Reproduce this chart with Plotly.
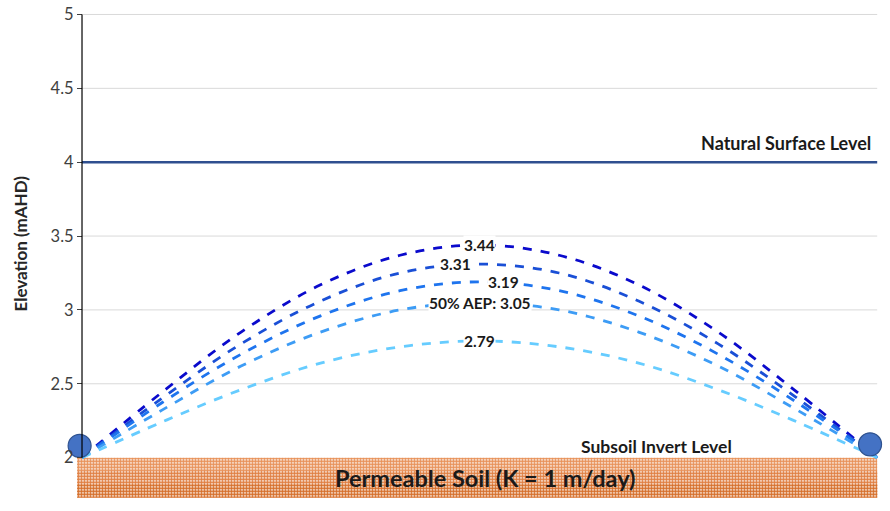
import plotly.graph_objects as go

# distance across the soakage area (no x axis shown, arbitrary units)
distance = [0, 1, 2, 3, 4, 5, 6, 7, 8, 9, 10]

# groundwater mound profiles (mAHD)
mound_344 = [2.00, 2.44, 2.85, 3.17, 3.37, 3.44, 3.37, 3.17, 2.85, 2.44, 2.00]
mound_331 = [2.00, 2.40, 2.77, 3.06, 3.25, 3.31, 3.25, 3.06, 2.77, 2.40, 2.00]
mound_319 = [2.00, 2.37, 2.70, 2.96, 3.13, 3.19, 3.13, 2.96, 2.70, 2.37, 2.00]
mound_305 = [2.00, 2.32, 2.62, 2.85, 3.00, 3.05, 3.00, 2.85, 2.62, 2.32, 2.00]
mound_279 = [2.00, 2.24, 2.46, 2.64, 2.75, 2.79, 2.75, 2.64, 2.46, 2.24, 2.00]

mounds = [mound_344, mound_331, mound_319, mound_305, mound_279]
peak_labels = ['3.44', '3.31', '3.19', '50% AEP: 3.05', '2.79']
label_x = [5.0, 4.7, 5.3, 5.0, 5.0]
line_colors = ['#0A0ACC', '#1A4FD6', '#1E74EE', '#3D9CF5', '#66CCFF']

surface_level = 4.0
invert_level = 2.0
soil_bottom = 1.73
outlet_x = [-0.03, 9.91]
outlet_y = [2.08, 2.09]
ytick_vals = [2, 2.5, 3, 3.5, 4, 4.5, 5]

fig = go.Figure()

# permeable soil band, dotted, darker towards the bottom
# (each strip runs down to the bottom so the lower ones overlap without seams)
soil_strips = [(2.0, '#E8925A'), (1.91, '#E08043'), (1.82, '#D6702C')]
for top, col in soil_strips:
    fig.add_trace(go.Scatter(
        x=[-0.07, 10.0, 10.0, -0.07, -0.07],
        y=[top, top, soil_bottom, soil_bottom, top],
        mode='lines', line=dict(width=0),
        fill='toself', fillcolor='white',
        fillpattern=dict(shape='.', fgcolor=col, fgopacity=1, bgcolor='white',
                         size=3, solidity=0.75),
        hoverinfo='skip', showlegend=False,
    ))

# gridlines from the axis to the right edge
for v in ytick_vals:
    if v in (2, 4):
        continue
    fig.add_shape(type='line', x0=0, x1=10, y0=v, y1=v,
                  line=dict(color='#D9D9D9', width=1), layer='below')

# y axis line
fig.add_shape(type='line', x0=0, x1=0, y0=invert_level, y1=5,
              line=dict(color='black', width=1.2))

# natural surface level
fig.add_trace(go.Scatter(
    x=[0, 10], y=[surface_level, surface_level], mode='lines',
    line=dict(color='#2F4F8F', width=2.5), hoverinfo='skip', showlegend=False,
))

for ys, col in zip(mounds, line_colors):
    fig.add_trace(go.Scatter(
        x=distance, y=ys, mode='lines',
        line=dict(color=col, width=2.8, dash='dash', shape='spline'),
        showlegend=False,
    ))

# outlet pits
fig.add_trace(go.Scatter(
    x=outlet_x, y=outlet_y, mode='markers', cliponaxis=False,
    marker=dict(size=23, color='#4472C4', line=dict(color='#2F528F', width=1.2)),
    showlegend=False,
))

for txt, xv, ys in zip(peak_labels, label_x, mounds):
    fig.add_annotation(x=xv, y=max(ys), text='<b>' + txt + '</b>', showarrow=False,
                       bgcolor='white', borderpad=0,
                       font=dict(family='Lato', size=15.5, color='#1A1A1A'))

fig.add_annotation(x=9.95, y=surface_level, yshift=19, xanchor='right', showarrow=False,
                   text='<b>Natural Surface Level</b>',
                   font=dict(family='Lato', size=18, color='#1A1A1A'))
fig.add_annotation(x=8.2, y=invert_level, yshift=11, xanchor='right', showarrow=False,
                   text='<b>Subsoil Invert Level</b>',
                   font=dict(family='Lato', size=17.5, color='#1A1A1A'))
fig.add_annotation(x=5.07, y=(invert_level + soil_bottom) / 2, showarrow=False,
                   text='<b>Permeable Soil (K = 1 m/day)</b>',
                   font=dict(family='Lato', size=23.5, color='#1A1A1A'))
fig.add_annotation(x=-0.071, xref='paper', xanchor='center', y=3.45, textangle=-90,
                   showarrow=False, text='<b>Elevation (mAHD)</b>',
                   font=dict(family='Lato', size=17, color='#262626'))

fig.update_layout(
    width=890, height=511,
    plot_bgcolor='white', paper_bgcolor='white',
    margin=dict(l=77, r=12, t=12.5, b=11.5, autoexpand=False),
    xaxis=dict(range=[-0.063, 10.01], visible=False, showgrid=False, zeroline=False,
               automargin=False),
    yaxis=dict(
        range=[1.72, 5.01], tickvals=ytick_vals, ticktext=[str(v) for v in ytick_vals],
        showgrid=False, zeroline=False, showline=False, automargin=False,
        ticks='outside', ticklen=5, tickcolor='#404040', ticklabeloverflow='allow',
        tickfont=dict(family='Lato', size=16.5, color='#404040'),
        anchor='free', position=0.0062,
    ),
    font=dict(family='Lato'),
)

# drop the page's default body margin so the chart sits at the window's corner
fig.write_html('out.html', config={'displayModeBar': False},
               post_script="document.body.style.margin='0';")
